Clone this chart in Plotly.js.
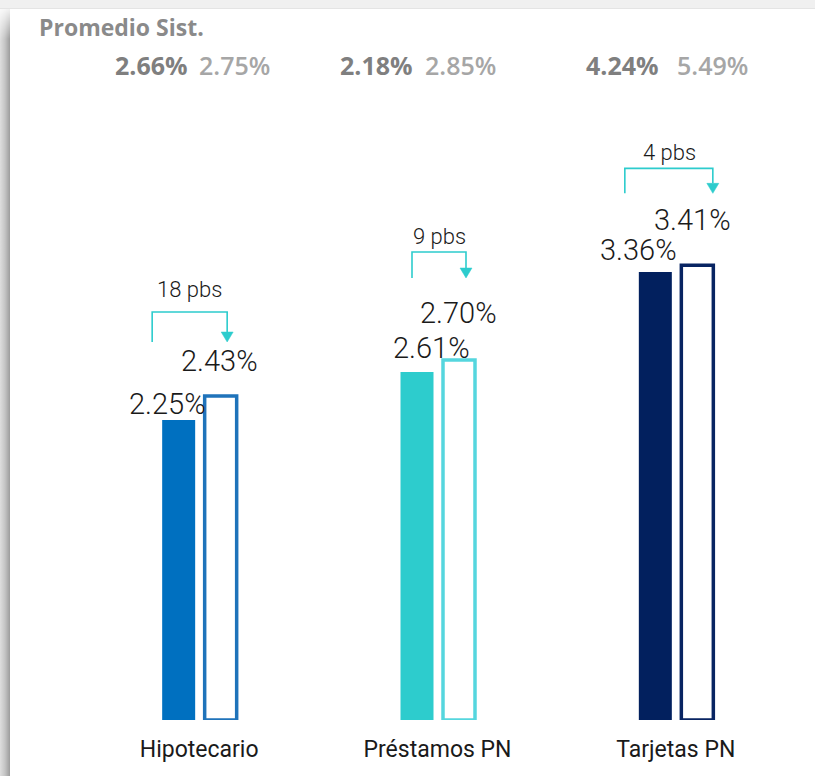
<!DOCTYPE html>
<html>
<head>
<meta charset="utf-8">
<script src="https://cdn.plot.ly/plotly-3.0.1.min.js"></script>
<style>
  html, body { margin: 0; padding: 0; background: #ffffff; }
  #wrap { position: relative; width: 815px; height: 776px; overflow: hidden; }
  #chart { position: absolute; left: 0; top: 0; width: 815px; height: 776px; }
  #band { position: absolute; left: 0; top: 0; width: 815px; height: 8px; background: #f0f0f0; border-bottom: 1px solid #e4e4e4; pointer-events: none; }
  #shadow { position: absolute; left: 0; top: 9px; width: 10px; height: 767px; pointer-events: none;
    background: linear-gradient(to right, #dedede, #c4c4c4 50%, #9c9c9c);
    -webkit-mask-image: linear-gradient(to bottom, rgba(0,0,0,0.15), rgba(0,0,0,1) 30px);
    mask-image: linear-gradient(to bottom, rgba(0,0,0,0.15), rgba(0,0,0,1) 30px); }
</style>
</head>
<body>
<div id="wrap">
  <div id="chart"></div>
  <div id="band"></div>
  <div id="shadow"></div>
</div>
<script>
// ---- data ----
const categories = ['Hipotecario', 'Préstamos PN', 'Tarjetas PN'];
const prevValues = [2.25, 2.61, 3.36];
const currValues = [2.43, 2.70, 3.41];
const deltaLabels = ['18 pbs', '9 pbs', '4 pbs'];
const sistPrev = ['2.66%', '2.18%', '4.24%'];
const sistCurr = ['2.75%', '2.85%', '5.49%'];
const headerTitle = 'Promedio Sist.';

// ---- styles ----
const solidColors = ['#0070c0', '#2dcccd', '#02205e'];
const outlineColors = ['#1f73ba', '#55d6de', '#082462'];
const teal = '#2dcccd';

// ---- layout geometry (pixels) ----
const W = 815, H = 776;
const M = {l: 80, r: 20, t: 40, b: 56};
const yMax = 5.1;
const pxX = (W - M.l - M.r) / 3;          // px per category unit
const pxY = (H - M.t - M.b) / yMax;       // px per value unit
const dx = p => p / pxX;
const dy = p => p / pxY;

// label offsets (px) relative to bar center / bar top
const prevLblDx = [-11.5, 14.5, -16.5], prevLblDy = [16, 24, 22];
const currLblDx = [-1, -1, -4.5],      currLblDy = [35, 47, 45];
// bracket geometry (px) relative to category center / outline bar top
const brL = [-47, -25.5, -51], brR = [28, 28.5, 37];
const brTop = [84, 108, 97], brBot = [54, 82, 72];
const pbsDx = [-9.5, 2, -6], pbsLift = [107, 124, 113];
// header split positions (px) relative to category center
const hdrRight = [-9, -22.5, -15], hdrLeft = [-2, -14.5, -1];

const xs = categories.map((c, i) => i);

const solidOffset = dx(-37), solidWidth = dx(33);
const outOffset = dx(5.5), outWidth = dx(32);
const solidCenter = solidOffset + solidWidth / 2;
const outCenter = outOffset + outWidth / 2;

const traces = [
  {
    type: 'bar', x: xs, y: prevValues, width: solidWidth, offset: solidOffset,
    marker: {color: solidColors, line: {width: 0}}, hoverinfo: 'skip'
  },
  {
    type: 'bar', x: xs, y: currValues, width: outWidth, offset: outOffset,
    marker: {color: '#ffffff', line: {color: outlineColors, width: 3.5}}, hoverinfo: 'skip'
  }
];

const valFont = {family: 'Roboto, sans-serif', size: 29, color: '#1a1a1a', weight: 300};
const annotations = [];
const shapes = [];

xs.forEach(i => {
  annotations.push({
    x: i + solidCenter, y: prevValues[i], xref: 'x', yref: 'y',
    text: prevValues[i].toFixed(2) + '%', showarrow: false,
    xshift: prevLblDx[i], yshift: prevLblDy[i], xanchor: 'center', yanchor: 'middle', font: valFont
  });
  annotations.push({
    x: i + outCenter, y: currValues[i], xref: 'x', yref: 'y',
    text: currValues[i].toFixed(2) + '%', showarrow: false,
    xshift: currLblDx[i], yshift: currLblDy[i], xanchor: 'center', yanchor: 'middle', font: valFont
  });
  // pbs label
  annotations.push({
    x: i + dx(pbsDx[i]), y: currValues[i] + dy(pbsLift[i]), xref: 'x', yref: 'y',
    text: deltaLabels[i], showarrow: false, xanchor: 'center', yanchor: 'middle',
    font: {family: 'Roboto, sans-serif', size: 22, color: '#1a1a1a', weight: 300}
  });
  // bracket
  const xl = i + dx(brL[i]), xr = i + dx(brR[i]);
  const yt = currValues[i] + dy(brTop[i]);
  const yb = currValues[i] + dy(brBot[i]);
  const ytb = yb + dy(10);
  shapes.push({
    type: 'path', xref: 'x', yref: 'y',
    path: `M ${xl} ${yb} L ${xl} ${yt} L ${xr} ${yt} L ${xr} ${ytb}`,
    line: {color: teal, width: 1.6}
  });
  shapes.push({
    type: 'path', xref: 'x', yref: 'y',
    path: `M ${xr - dx(6)} ${ytb} L ${xr + dx(6)} ${ytb} L ${xr} ${yb} Z`,
    fillcolor: teal, line: {color: teal, width: 0.5}
  });
  // header values
  annotations.push({
    x: i + dx(hdrRight[i]), y: dy(720 - 65), xref: 'x', yref: 'y',
    text: sistPrev[i], showarrow: false, xanchor: 'right', yanchor: 'middle',
    font: {family: 'Open Sans, sans-serif', size: 25, color: '#7f7f7f', weight: 700}
  });
  annotations.push({
    x: i + dx(hdrLeft[i]), y: dy(720 - 65), xref: 'x', yref: 'y',
    text: sistCurr[i], showarrow: false, xanchor: 'left', yanchor: 'middle',
    font: {family: 'Open Sans, sans-serif', size: 25, color: '#a6a6a6', weight: 600}
  });
});

annotations.push({
  x: (37 - M.l) / (W - M.l - M.r), y: (720 - 27) / (H - M.t - M.b), xref: 'paper', yref: 'paper',
  text: headerTitle, showarrow: false, xanchor: 'left', yanchor: 'middle',
  font: {family: 'Open Sans, sans-serif', size: 23, color: '#8a8a8a', weight: 700}
});

const layout = {
  width: W, height: H,
  margin: M,
  paper_bgcolor: '#ffffff', plot_bgcolor: '#ffffff',
  showlegend: false,
  barmode: 'overlay',
  xaxis: {
    range: [-0.5, 2.5], tickvals: xs, ticktext: categories,
    showgrid: false, zeroline: false, showline: false, ticks: '',
    ticklabelstandoff: 13,
    tickfont: {family: 'Roboto, sans-serif', size: 23, color: '#1a1a1a'},
    fixedrange: true
  },
  yaxis: {range: [0, yMax], visible: false, fixedrange: true},
  annotations: annotations,
  shapes: shapes
};

Plotly.newPlot('chart', traces, layout, {displayModeBar: false, staticPlot: true});
</script>
</body>
</html>
